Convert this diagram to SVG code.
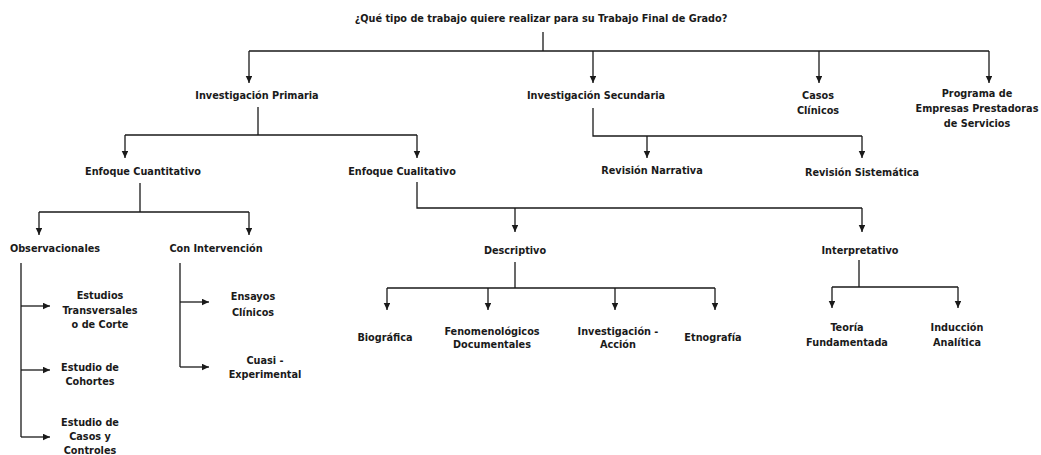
<svg xmlns="http://www.w3.org/2000/svg" width="1041" height="455" viewBox="0 0 1041 455">
<style>
text{font-family:'Liberation Sans Narrow','DejaVu Sans Condensed','Liberation Sans',sans-serif;font-weight:bold;font-size:10.8px;fill:#1a1a1a;text-anchor:middle}
.c path{fill:none;stroke:#1a1a1a;stroke-width:1.3}
.a{marker-end:url(#ah)}
</style>
<defs>
<marker id="ah" markerUnits="userSpaceOnUse" markerWidth="8" markerHeight="7" refX="7" refY="3.25" orient="auto">
<path d="M0,0 L7,3.25 L0,6.5 z" fill="#1a1a1a"/>
</marker>
</defs>
<rect width="1041" height="455" fill="#fff"/>
<g class="c" id="connectors">
<path d="M543,32 V51 M249,51 H989"/>
<path class="a" d="M249,51 V83"/>
<path class="a" d="M593,51 V83"/>
<path class="a" d="M819,51 V83"/>
<path class="a" d="M989,51 V83"/>
<path d="M258,107 V135 M125,135 H417"/>
<path class="a" d="M125,135 V158"/>
<path class="a" d="M417,135 V158"/>
<path d="M593,108 V136 H862"/>
<path class="a" d="M647,136 V158"/>
<path class="a" d="M862,136 V158"/>
<path d="M140,183 V212 M39,212 H249"/>
<path class="a" d="M39,212 V235"/>
<path class="a" d="M249,212 V235"/>
<path d="M417,182 V208 H862"/>
<path class="a" d="M515,208 V232"/>
<path class="a" d="M862,208 V232"/>
<path d="M515,262 V288 M387,288 H715"/>
<path class="a" d="M387,288 V310"/>
<path class="a" d="M488,288 V310"/>
<path class="a" d="M615,288 V310"/>
<path class="a" d="M715,288 V310"/>
<path d="M859,260 V287 M832,287 H958"/>
<path class="a" d="M832,287 V308"/>
<path class="a" d="M958,287 V308"/>
<path d="M21,263 V437"/>
<path class="a" d="M21,306 H50"/>
<path class="a" d="M21,370 H50"/>
<path class="a" d="M21,437 H50"/>
<path d="M180,263 V367"/>
<path class="a" d="M180,302 H209"/>
<path class="a" d="M180,367 H209"/>
</g>
<g id="n-root"><text x="541" y="22">¿Qué tipo de trabajo quiere realizar para su Trabajo Final de Grado?</text></g>
<g id="n-primaria"><text x="257" y="99">Investigación Primaria</text></g>
<g id="n-secundaria"><text x="596" y="99">Investigación Secundaria</text></g>
<g id="n-casos"><text x="818" y="99">Casos</text><text x="818" y="114">Clínicos</text></g>
<g id="n-programa"><text x="977" y="97">Programa de</text><text x="977" y="112">Empresas Prestadoras</text><text x="977" y="127">de Servicios</text></g>
<g id="n-cuantitativo"><text x="143" y="175">Enfoque Cuantitativo</text></g>
<g id="n-cualitativo"><text x="402" y="175">Enfoque Cualitativo</text></g>
<g id="n-narrativa"><text x="652" y="174">Revisión Narrativa</text></g>
<g id="n-sistematica"><text x="862" y="176">Revisión Sistemática</text></g>
<g id="n-observacionales"><text x="55" y="252">Observacionales</text></g>
<g id="n-intervencion"><text x="216" y="252">Con Intervención</text></g>
<g id="n-descriptivo"><text x="515" y="254">Descriptivo</text></g>
<g id="n-interpretativo"><text x="860" y="254">Interpretativo</text></g>
<g id="n-transversales"><text x="100" y="299">Estudios</text><text x="100" y="314">Transversales</text><text x="100" y="328">o de Corte</text></g>
<g id="n-cohortes"><text x="90" y="371">Estudio de</text><text x="90" y="385">Cohortes</text></g>
<g id="n-casoscontroles"><text x="90" y="426">Estudio de</text><text x="90" y="440">Casos y</text><text x="90" y="454">Controles</text></g>
<g id="n-ensayos"><text x="253" y="300">Ensayos</text><text x="253" y="316">Clínicos</text></g>
<g id="n-cuasi"><text x="265" y="364">Cuasi -</text><text x="265" y="378">Experimental</text></g>
<g id="n-biografica"><text x="385" y="341">Biográfica</text></g>
<g id="n-fenomenologicos"><text x="492" y="335">Fenomenológicos</text><text x="492" y="348">Documentales</text></g>
<g id="n-ia"><text x="618" y="335">Investigación -</text><text x="618" y="348">Acción</text></g>
<g id="n-etnografia"><text x="713" y="341">Etnografía</text></g>
<g id="n-teoria"><text x="847" y="331">Teoría</text><text x="847" y="346">Fundamentada</text></g>
<g id="n-induccion"><text x="957" y="331">Inducción</text><text x="957" y="346">Analítica</text></g>
</svg>
